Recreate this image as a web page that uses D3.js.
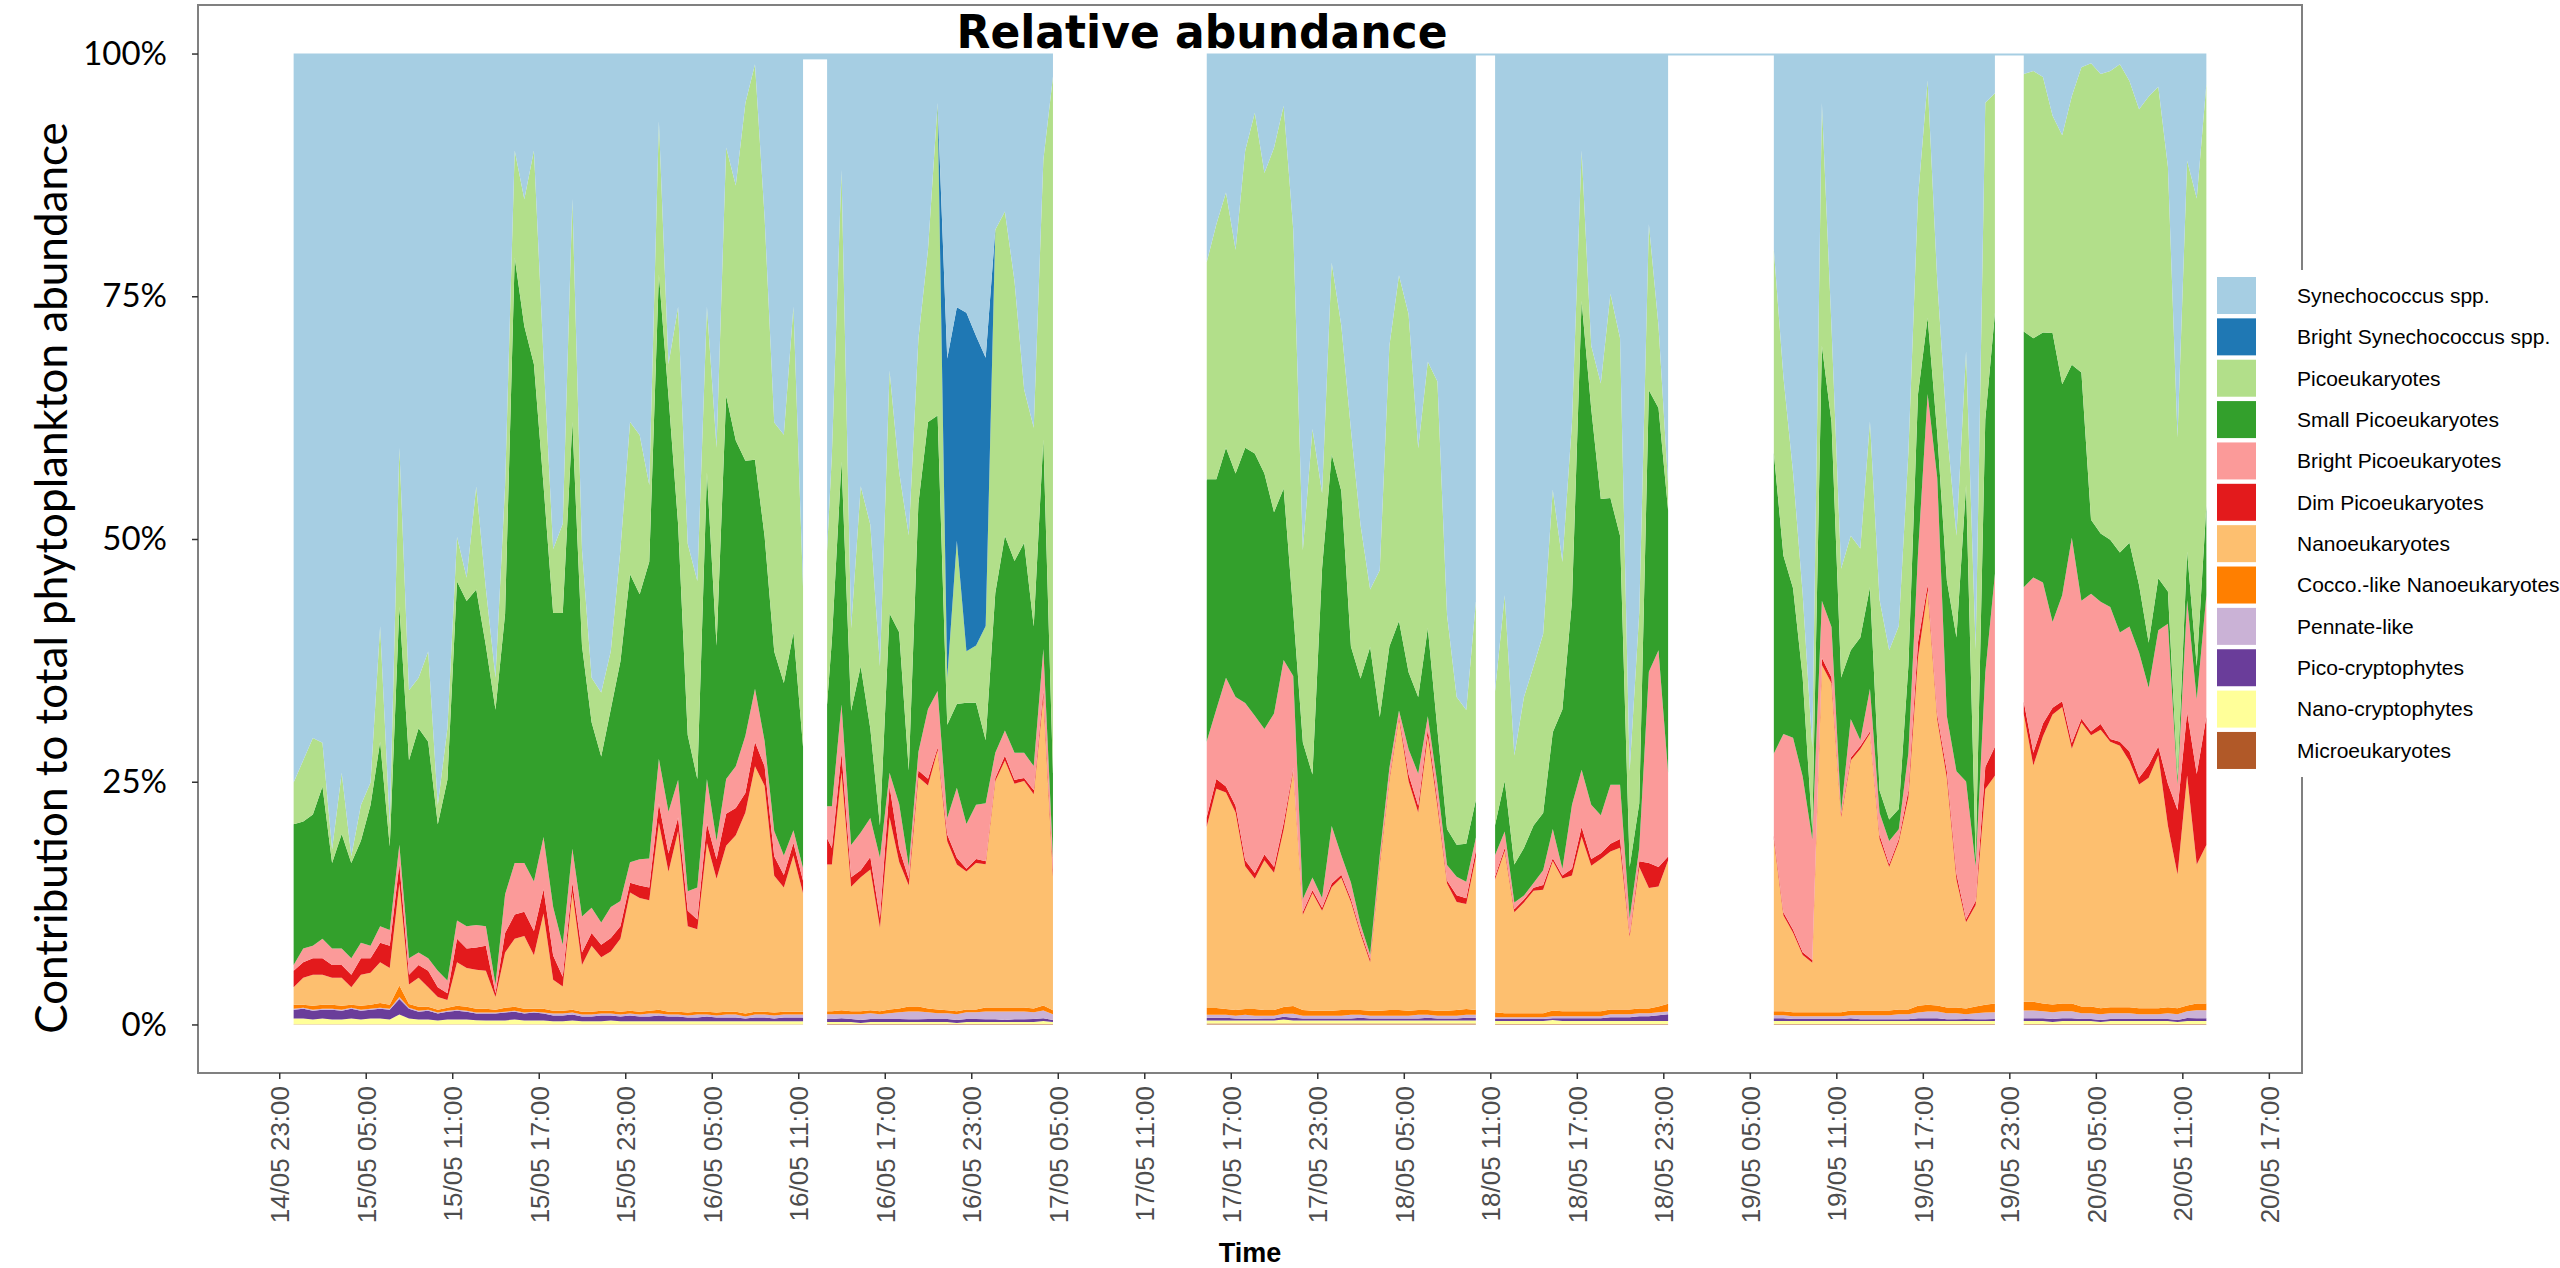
<!DOCTYPE html>
<html>
<head>
<meta charset="utf-8">
<script src="https://cdn.jsdelivr.net/npm/d3@7"></script>
<style>
  body { margin: 0; background: #fff; }
  svg { display: block; }
</style>
</head>
<body>
<div id="chart"></div>
<script>
// sampling times (one list, six sampling runs separated by gaps)
const times = [
  // run 1
  "15/05 00:00","15/05 00:40","15/05 01:20","15/05 02:00","15/05 02:40","15/05 03:20","15/05 04:00","15/05 04:40","15/05 05:20","15/05 06:00",
  "15/05 06:40","15/05 07:20","15/05 08:00","15/05 08:40","15/05 09:20","15/05 10:00","15/05 10:40","15/05 11:20","15/05 12:00","15/05 12:40",
  "15/05 13:20","15/05 14:00","15/05 14:40","15/05 15:20","15/05 16:00","15/05 16:40","15/05 17:20","15/05 18:00","15/05 18:40","15/05 19:20",
  "15/05 20:00","15/05 20:40","15/05 21:20","15/05 22:00","15/05 22:40","15/05 23:20","16/05 00:00","16/05 00:40","16/05 01:20","16/05 02:00",
  "16/05 02:40","16/05 03:20","16/05 04:00","16/05 04:40","16/05 05:20","16/05 06:00","16/05 06:40","16/05 07:20","16/05 08:00","16/05 08:40",
  "16/05 09:20","16/05 10:00","16/05 10:40","16/05 11:20",
  // run 2
  "16/05 13:00","16/05 13:20","16/05 14:00","16/05 14:40","16/05 15:20","16/05 16:00","16/05 16:40","16/05 17:20","16/05 18:00","16/05 18:40",
  "16/05 19:20","16/05 20:00","16/05 20:40","16/05 21:20","16/05 22:00","16/05 22:40","16/05 23:20","17/05 00:00","17/05 00:40","17/05 01:20",
  "17/05 02:00","17/05 02:40","17/05 03:20","17/05 04:00","17/05 04:40",
  // run 3
  "17/05 15:20","17/05 16:00","17/05 16:40","17/05 17:20","17/05 18:00","17/05 18:40","17/05 19:20","17/05 20:00","17/05 20:40","17/05 21:20",
  "17/05 22:00","17/05 22:40","17/05 23:20","18/05 00:00","18/05 00:40","18/05 01:20","18/05 02:00","18/05 02:40","18/05 03:20","18/05 04:00",
  "18/05 04:40","18/05 05:20","18/05 06:00","18/05 06:40","18/05 07:20","18/05 08:00","18/05 08:40","18/05 09:20","18/05 10:00",
  // run 4
  "18/05 11:20","18/05 12:00","18/05 12:40","18/05 13:20","18/05 14:00","18/05 14:40","18/05 15:20","18/05 16:00","18/05 16:40","18/05 17:20",
  "18/05 18:00","18/05 18:40","18/05 19:20","18/05 20:00","18/05 20:40","18/05 21:20","18/05 22:00","18/05 22:40","18/05 23:20",
  // run 5
  "19/05 06:40","19/05 07:20","19/05 08:00","19/05 08:40","19/05 09:20","19/05 10:00","19/05 10:40","19/05 11:20","19/05 12:00","19/05 12:40",
  "19/05 13:20","19/05 14:00","19/05 14:40","19/05 15:20","19/05 16:00","19/05 16:40","19/05 17:20","19/05 18:00","19/05 18:40","19/05 19:20",
  "19/05 20:00","19/05 20:40","19/05 21:20","19/05 22:00",
  // run 6
  "20/05 00:00","20/05 00:40","20/05 01:20","20/05 02:00","20/05 02:40","20/05 03:20","20/05 04:00","20/05 04:40","20/05 05:20","20/05 06:00",
  "20/05 06:40","20/05 07:20","20/05 08:00","20/05 08:40","20/05 09:20","20/05 10:00","20/05 10:40","20/05 11:20","20/05 12:00","20/05 12:40"
];

// relative abundance of each group (%)
const synechococcus = [
  75.1,72.8,70.5,71.0,82.0,74.1,82.7,77.4,75.1,59.0,79.4,40.6,65.6,64.3,61.6,77.4,69.5,49.8,54.0,44.5,
  55.1,64.3,44.5,10.0,15.0,10.0,31.4,51.1,48.5,15.0,51.1,64.3,65.9,61.6,51.1,38.0,39.3,44.5,7.0,32.0,
  26.1,50.5,54.4,26.1,40.6,9.7,13.6,5.1,1.1,16.9,38.0,39.3,26.1,55.1,
  51.1,41.2,12.0,59.1,44.5,48.5,63.0,32.7,43.2,49.8,29.5,20.2,5.1,31.4,26.1,26.7,29.1,31.4,18.2,16.3,23.5,34.7,38.6,11.0,2.4,
  21.5,17.6,14.3,20.2,10.0,6.1,12.3,9.7,5.4,18.2,51.1,38.6,45.2,21.5,28.0,38.7,48.5,55.1,53.1,30.1,22.8,26.8,40.6,31.7,33.7,57.7,66.2,67.6,56.4,
  65.6,55.7,72.2,66.2,63.0,59.7,45.0,52.4,38.0,10.0,30.1,34.0,24.8,29.4,74.1,57.7,17.6,28.1,44.5,
  20.2,33.4,43.2,55.7,71.5,5.1,28.2,53.1,49.8,51.1,38.0,56.4,61.6,59.1,41.2,14.9,2.8,23.5,38.7,49.8,30.7,61.6,5.1,4.1,
  2.1,1.8,2.4,6.4,8.4,4.4,1.4,1.0,2.1,1.8,1.1,2.8,5.7,4.4,3.4,11.6,39.3,11.0,14.9,3.1
];
const brightSynechococcus = [
  0,0,0,0,0,0,0,0,0,0,0,0,0,0,0,0,0,0,0,0,0,0,0,0,0,0,0,0,0,0,0,0,0,0,0,0,0,0,0,0,0,0,0,0,0,0,0,0,0,0,0,0,0,0,
  0,0,0,0,0,0,0,0,0,0,0,0,0,32.9,24.0,34.9,31.9,27.7,0,0,0,0,0,0,0,
  0,0,0,0,0,0,0,0,0,0,0,0,0,0,0,0,0,0,0,0,0,0,0,0,0,0,0,0,0,
  0,0,0,0,0,0,0,0,0,0,0,0,0,0,0,0,0,0,0,
  0,0,0,0,0,0,0,0,0,0,0,0,0,0,0,0,0,0,0,0,0,0,0,0,
  0,0,0,0,0,0,0,0,0,0,0,0,0,0,0,0,0,0,0,0
];
const picoeukaryotes = [
  4.3,6.3,7.9,4.5,1.4,6.3,0.7,3.7,2.3,11.9,2.3,16.4,7.2,5.2,9.3,2.0,5.3,4.6,2.4,10.6,
  5.9,3.3,13.2,11.0,13.1,22.0,13.1,6.6,9.2,23.0,9.9,4.6,6.6,6.0,11.5,15.7,16.4,7.9,15.8,3.3,
  22.4,19.7,20.4,17.1,20.4,25.6,26.3,36.8,40.8,32.9,23.6,25.6,33.6,16.4,
  15.8,19.1,30.0,8.5,18.5,21.0,16.4,25.0,16.5,24.3,17.0,17.8,32.2,4.8,16.8,5.3,5.9,11.8,37.5,33.5,28.9,15.8,20.5,28.9,71.7,
  22.4,26.3,26.3,23.0,30.6,35.1,30.9,37.5,39.5,39.5,19.8,35.5,7.7,19.7,17.0,22.3,15.8,5.9,15.1,30.9,35.6,36.8,25.6,27.4,35.8,22.0,15.2,13.8,20.4,
  13.8,19.1,11.2,15.5,16.4,18.4,25.0,15.2,18.4,15.5,6.5,11.9,21.1,20.4,9.9,19.7,17.1,8.5,2.7,
  21.0,18.4,11.9,8.6,8.6,25.0,9.8,11.2,11.8,9.2,17.1,19.7,17.5,18.9,22.0,20.4,24.6,15.8,15.7,10.5,13.8,21.8,32.9,22.7,
  26.6,27.6,26.3,22.3,25.6,27.6,31.3,46.8,47.0,48.0,50.0,47.3,48.7,55.9,50.3,43.5,34.8,40.1,48.1,43.4
];
const smallPicoeukaryotes = [
  14.5,13.1,13.5,15.7,8.8,11.8,9.8,10.5,14.5,19.0,8.6,24.5,20.4,23.1,22.3,15.1,20.7,34.9,33.5,34.5,
  28.9,28.3,28.9,62.4,55.3,53.3,36.2,30.3,34.2,44.0,27.9,19.1,17.1,20.4,24.7,29.7,27.3,30.6,50.0,42.8,
  26.3,16.1,11.2,31.6,20.1,39.5,33.6,28.3,23.6,21.1,18.5,17.8,20.4,12.5,
  10.5,17.1,25.0,13.8,17.1,9.2,3.3,16.4,17.7,9.9,25.7,29.6,28.4,9.6,8.6,12.5,10.5,6.5,16.5,20.1,19.8,21.7,14.4,21.7,8.6,
  27.0,23.7,23.7,23.0,26.3,27.0,26.3,20.7,17.7,6.6,16.1,10.6,33.9,38.2,37.5,24.3,25.3,31.6,14.2,12.5,9.2,7.9,7.9,9.1,5.6,3.7,3.3,3.9,3.9,
  3.1,5.2,3.9,4.9,5.9,5.9,10.0,16.4,21.0,48.3,40.8,32.6,29.6,25.7,5.3,4.6,29.0,25.0,27.1,
  31.0,18.4,15.4,10.2,0.9,26.3,21.1,13.8,7.1,10.6,10.5,2.3,2.2,2.1,9.0,16.5,7.9,4.6,14.0,13.8,30.6,0.6,26.3,26.9,
  26.4,24.7,25.7,29.7,21.7,17.8,23.4,7.6,7.0,6.9,8.2,8.6,6.9,4.6,5.3,3.3,0.7,5.0,3.4,9.2
];
const brightPicoeukaryotes = [
  0.6,1.4,1.3,2.0,1.7,1.7,1.7,1.6,1.3,1.7,1.6,2.0,1.7,1.3,1.3,1.7,1.3,1.9,2.3,2.3,
  2.0,0.9,4.0,5.3,5.0,5.1,5.4,5.0,3.3,3.5,3.7,2.6,2.3,3.2,2.6,2.1,2.7,3.0,4.6,4.3,
  3.9,2.0,3.3,4.6,1.9,3.6,4.3,5.9,5.5,2.6,2.6,2.0,1.3,1.3,
  3.3,4.3,5.0,3.3,3.9,4.0,6.2,1.4,4.6,1.3,1.9,7.2,5.8,1.7,7.2,4.6,5.6,6.0,2.6,2.6,2.8,2.6,2.5,4.3,1.3,
  7.8,7.2,11.2,11.2,16.2,16.2,12.9,15.8,16.8,9.5,1.3,1.3,1.0,5.9,2.0,1.7,0.7,0.5,0.6,1.0,0.5,2.6,3.3,1.3,1.7,1.6,1.9,1.7,1.3,
  2.2,1.7,0.7,0.4,0.5,1.5,3.0,0.7,6.6,5.9,5.6,3.9,6.1,5.6,1.6,1.4,19.7,22.4,8.7,
  8.5,18.4,19.8,18.1,12.4,5.9,5.2,0.3,4.0,0.6,4.4,2.3,2.4,1.0,3.9,9.2,19.8,24.5,5.7,10.6,14.2,3.6,9.8,17.8,
  11.8,18.1,14.5,8.8,10.9,21.1,12.1,14.1,12.5,13.5,11.2,12.8,12.8,7.9,11.9,16.4,2.6,11.5,7.7,12.5
];
const dimPicoeukaryotes = [
  1.7,1.6,1.7,1.7,1.3,1.3,1.3,1.7,1.5,2.0,2.3,2.0,1.0,1.3,1.7,1.0,0.7,2.4,2.0,2.3,
  2.6,0.4,2.0,2.5,2.5,2.5,2.5,2.5,1.0,1.0,1.3,1.3,1.3,1.4,1.3,1.0,1.3,1.3,2.0,1.9,
  1.4,1.6,1.0,2.0,2.0,3.3,2.8,2.0,2.5,2.0,2.0,1.3,1.3,1.3,
  2.7,1.7,2.0,1.0,0.7,1.3,1.0,3.2,1.4,0.7,0.7,0.7,0.3,0.7,0.7,0.3,0.4,0.3,0.3,0.5,0.4,0.3,0.4,0.7,0.7,
  1.0,1.0,0.6,0.7,0.6,0.6,0.6,0.6,0.7,0.3,0.3,0.3,0.3,0.4,0.3,0.3,0.3,0.3,0.4,0.3,0.3,0.7,0.7,0.7,0.6,0.3,0.7,0.6,0.7,
  0.3,0.3,0.3,0.3,0.3,0.5,0.3,0.3,0.7,1.0,0.7,0.6,0.8,0.9,0.3,0.6,2.6,2.0,0.4,
  0.4,0.3,0.3,0.3,0.3,0.7,0.6,0.3,0.3,0.3,0.2,0.4,0.3,0.3,0.7,1.6,0.6,0.5,0.7,0.6,0.3,0.4,2.3,3.0,
  1.3,1.3,1.3,0.7,0.6,0.6,0.4,0.4,0.6,0.3,0.4,1.0,0.7,1.3,0.9,4.3,6.6,6.5,9.3,13.2
];
const nanoeukaryotes = [
  1.8,2.8,3.2,3.1,2.8,2.9,1.8,3.2,3.3,4.2,3.8,10.5,2.0,3.0,2.0,1.3,0.8,4.5,4.0,4.0,
  3.9,1.3,5.7,7.0,7.5,5.5,9.8,3.2,2.5,12.1,4.8,6.8,5.5,6.1,7.5,12.2,11.7,11.4,19.3,14.4,
  18.6,8.9,8.5,17.4,13.8,17.1,18.2,20.7,25.3,23.3,14.1,12.8,16.1,12.2,
  15.1,15.1,24.5,12.8,13.8,14.5,8.6,19.8,15.1,12.5,23.7,23.0,26.7,17.4,15.1,14.2,15.1,14.8,23.4,25.5,23.1,23.4,22.1,31.9,13.8,
  18.7,22.6,22.3,20.3,14.7,13.4,15.4,14.1,18.3,24.3,9.8,12.1,10.3,12.7,13.6,11.1,7.8,5.0,15.0,23.6,30.0,23.6,20.3,28.2,21.0,13.1,11.1,10.8,15.7,
  13.7,16.7,10.4,11.4,12.6,12.7,15.4,13.7,14.0,18.0,15.0,15.7,16.3,16.7,7.5,14.6,12.4,12.4,14.8,
  17.7,9.9,8.2,5.9,5.1,35.8,33.9,20.1,25.8,27.0,28.6,17.7,14.8,17.3,21.9,36.1,42.9,29.6,23.7,13.2,8.9,10.5,22.4,23.5,
  29.7,24.4,27.5,29.8,30.5,26.2,29.1,27.8,28.5,27.2,26.8,25.2,22.9,23.6,25.9,18.6,13.7,23.6,14.3,16.3
];
const coccoNanoeukaryotes = [
  0.4,0.3,0.4,0.4,0.4,0.4,0.3,0.4,0.4,0.5,0.4,1.2,0.4,0.4,0.3,0.3,0.3,0.4,0.4,0.4,
  0.4,0.3,0.4,0.4,0.4,0.3,0.4,0.3,0.3,0.3,0.3,0.3,0.3,0.3,0.3,0.3,0.3,0.3,0.4,0.3,
  0.3,0.3,0.3,0.3,0.3,0.3,0.3,0.3,0.3,0.3,0.3,0.3,0.3,0.3,
  0.3,0.3,0.4,0.3,0.3,0.3,0.3,0.4,0.4,0.5,0.5,0.4,0.4,0.3,0.3,0.3,0.3,0.4,0.4,0.4,0.4,0.4,0.4,0.5,0.4,
  0.7,0.7,0.6,0.6,0.6,0.7,0.6,0.6,0.7,0.8,0.6,0.5,0.5,0.5,0.6,0.5,0.5,0.5,0.5,0.6,0.6,0.5,0.5,0.5,0.5,0.5,0.6,0.6,0.5,
  0.5,0.4,0.4,0.4,0.4,0.4,0.6,0.5,0.5,0.5,0.5,0.5,0.5,0.5,0.5,0.5,0.5,0.6,0.8,
  0.4,0.4,0.4,0.4,0.4,0.4,0.4,0.4,0.5,0.5,0.5,0.5,0.5,0.5,0.5,0.7,0.7,0.6,0.6,0.6,0.6,0.7,0.8,0.9,
  0.9,0.9,0.8,0.8,0.8,0.8,0.7,0.7,0.6,0.6,0.6,0.6,0.6,0.6,0.6,0.6,0.6,0.6,0.7,0.7
];
const pennateLike = [
  0.1,0.1,0.1,0.1,0.1,0.1,0.1,0.1,0.1,0.1,0.1,0.2,0.1,0.1,0.1,0.1,0.1,0.1,0.1,0.1,
  0.1,0.1,0.1,0.1,0.1,0.1,0.1,0.2,0.2,0.2,0.2,0.2,0.2,0.2,0.2,0.2,0.2,0.3,0.2,0.2,
  0.2,0.2,0.3,0.2,0.2,0.3,0.3,0.2,0.3,0.3,0.3,0.3,0.3,0.3,
  0.5,0.5,0.4,0.5,0.6,0.6,0.5,0.6,0.7,0.8,0.8,0.7,0.6,0.6,0.6,0.7,0.7,0.8,0.8,0.9,0.8,0.8,0.7,0.8,0.6,
  0.3,0.3,0.3,0.3,0.4,0.3,0.3,0.3,0.3,0.4,0.3,0.3,0.3,0.3,0.3,0.4,0.3,0.3,0.3,0.3,0.3,0.3,0.4,0.3,0.3,0.3,0.3,0.3,0.3,
  0.2,0.2,0.2,0.2,0.2,0.2,0.2,0.2,0.2,0.2,0.2,0.2,0.3,0.3,0.3,0.3,0.3,0.3,0.3,
  0.3,0.3,0.3,0.3,0.3,0.3,0.3,0.3,0.3,0.4,0.4,0.4,0.4,0.5,0.5,0.6,0.7,0.7,0.6,0.6,0.5,0.6,0.7,0.7,
  0.8,0.8,0.7,0.7,0.7,0.7,0.6,0.6,0.6,0.6,0.6,0.6,0.5,0.5,0.5,0.6,0.6,0.7,0.8,0.8
];
const picoCryptophytes = [
  0.9,1.0,0.9,0.9,1.0,0.9,1.0,0.9,0.9,1.0,1.0,1.6,1.0,0.8,0.9,0.7,0.8,0.9,0.8,0.7,
  0.7,0.7,0.8,0.8,0.7,0.8,0.7,0.6,0.6,0.6,0.5,0.5,0.6,0.5,0.5,0.6,0.5,0.5,0.6,0.5,
  0.5,0.4,0.4,0.5,0.4,0.4,0.4,0.3,0.4,0.4,0.3,0.4,0.4,0.4,
  0.3,0.3,0.4,0.3,0.3,0.3,0.3,0.3,0.3,0.3,0.3,0.3,0.3,0.3,0.3,0.3,0.3,0.3,0.3,0.2,0.3,0.3,0.3,0.3,0.2,
  0.3,0.3,0.3,0.2,0.2,0.2,0.2,0.2,0.3,0.3,0.2,0.2,0.2,0.2,0.2,0.2,0.3,0.2,0.2,0.2,0.2,0.2,0.2,0.3,0.2,0.2,0.2,0.3,0.3,
  0.2,0.2,0.2,0.2,0.2,0.2,0.2,0.3,0.3,0.3,0.3,0.3,0.4,0.4,0.4,0.5,0.5,0.6,0.7,
  0.3,0.3,0.2,0.2,0.2,0.2,0.2,0.2,0.3,0.2,0.2,0.2,0.2,0.2,0.2,0.3,0.3,0.3,0.2,0.2,0.2,0.2,0.2,0.2,
  0.3,0.3,0.3,0.3,0.3,0.3,0.2,0.2,0.2,0.2,0.2,0.2,0.2,0.2,0.2,0.2,0.2,0.3,0.3,0.3
];
const nanoCryptophytes = [
  0.6,0.6,0.5,0.6,0.5,0.5,0.6,0.5,0.6,0.6,0.5,1.0,0.6,0.5,0.5,0.4,0.5,0.5,0.5,0.4,
  0.4,0.4,0.4,0.5,0.4,0.4,0.4,0.3,0.3,0.4,0.3,0.3,0.3,0.4,0.3,0.3,0.3,0.3,0.3,0.3,
  0.3,0.3,0.3,0.3,0.3,0.3,0.3,0.3,0.3,0.3,0.3,0.3,0.3,0.3,
  0.2,0.2,0.2,0.2,0.1,0.2,0.2,0.2,0.2,0.2,0.2,0.2,0.2,0.2,0.1,0.2,0.2,0.2,0.2,0.2,0.2,0.2,0.2,0.3,0.2,
  0.3,0.3,0.3,0.3,0.3,0.3,0.3,0.3,0.4,0.3,0.3,0.3,0.3,0.3,0.3,0.3,0.3,0.3,0.3,0.3,0.3,0.3,0.3,0.3,0.3,0.3,0.3,0.3,0.3,
  0.3,0.3,0.3,0.3,0.3,0.3,0.4,0.3,0.3,0.3,0.3,0.3,0.3,0.3,0.3,0.3,0.3,0.3,0.3,
  0.3,0.3,0.3,0.3,0.3,0.3,0.3,0.3,0.3,0.3,0.3,0.3,0.3,0.3,0.3,0.3,0.3,0.3,0.3,0.3,0.3,0.3,0.3,0.3,
  0.3,0.3,0.3,0.2,0.3,0.3,0.3,0.3,0.2,0.3,0.3,0.3,0.3,0.3,0.3,0.3,0.2,0.3,0.3,0.3
];
const microeukaryotes = [
  0.02,0.02,0.02,0.02,0.02,0.02,0.02,0.02,0.02,0.02,0.02,0.02,0.02,0.02,0.02,0.02,0.02,0.02,0.02,0.02,
  0.02,0.02,0.02,0.02,0.02,0.02,0.02,0.02,0.02,0.02,0.02,0.02,0.02,0.02,0.02,0.02,0.02,0.02,0.02,0.02,
  0.02,0.02,0.02,0.02,0.02,0.02,0.02,0.02,0.02,0.02,0.02,0.02,0.02,0.02,
  0.05,0.05,0.05,0.05,0.05,0.05,0.05,0.05,0.05,0.05,0.05,0.05,0.05,0.05,0.05,0.05,0.05,0.05,0.05,0.05,0.05,0.05,0.05,0.05,0.05,
  0.1,0.1,0.1,0.1,0.1,0.1,0.1,0.1,0.1,0.1,0.1,0.1,0.1,0.1,0.1,0.1,0.1,0.1,0.1,0.1,0.1,0.1,0.1,0.1,0.1,0.1,0.1,0.1,0.1,
  0.05,0.05,0.05,0.05,0.05,0.05,0.05,0.05,0.05,0.05,0.05,0.05,0.05,0.05,0.05,0.05,0.05,0.05,0.05,
  0.05,0.05,0.05,0.05,0.05,0.05,0.05,0.05,0.05,0.05,0.05,0.05,0.05,0.05,0.05,0.05,0.05,0.05,0.05,0.05,0.05,0.05,0.05,0.05,
  0.05,0.05,0.05,0.05,0.05,0.05,0.05,0.05,0.05,0.05,0.05,0.05,0.05,0.05,0.05,0.05,0.05,0.05,0.05,0.05
];

// legend order (top of stack first)
const groupNames = [
  "Synechococcus spp.", "Bright Synechococcus spp.", "Picoeukaryotes", "Small Picoeukaryotes",
  "Bright Picoeukaryotes", "Dim Picoeukaryotes", "Nanoeukaryotes", "Cocco.-like Nanoeukaryotes",
  "Pennate-like", "Pico-cryptophytes", "Nano-cryptophytes", "Microeukaryotes"
];
const groupColors = [
  "#a6cee3", "#1f78b4", "#b2df8a", "#33a02c", "#fb9a99", "#e31a1c",
  "#fdbf6f", "#ff7f00", "#cab2d6", "#6a3d9a", "#ffff99", "#b15928"
];
const groupValues = [
  synechococcus, brightSynechococcus, picoeukaryotes, smallPicoeukaryotes,
  brightPicoeukaryotes, dimPicoeukaryotes, nanoeukaryotes, coccoNanoeukaryotes,
  pennateLike, picoCryptophytes, nanoCryptophytes, microeukaryotes
];

const xTickLabels = [
  "14/05 23:00","15/05 05:00","15/05 11:00","15/05 17:00","15/05 23:00","16/05 05:00",
  "16/05 11:00","16/05 17:00","16/05 23:00","17/05 05:00","17/05 11:00","17/05 17:00",
  "17/05 23:00","18/05 05:00","18/05 11:00","18/05 17:00","18/05 23:00","19/05 05:00",
  "19/05 11:00","19/05 17:00","19/05 23:00","20/05 05:00","20/05 11:00","20/05 17:00"
];
const yTickValues = [0, 0.25, 0.5, 0.75, 1];
const yTickLabels = ["0%", "25%", "50%", "75%", "100%"];

// periods without samples (blanked out)
const gapFrom = ["16/05 11:20", "17/05 04:40", "18/05 10:00", "18/05 23:20", "19/05 22:00"];
const gapTo   = ["16/05 13:00", "17/05 15:20", "18/05 11:20", "19/05 06:40", "20/05 00:00"];
const gapTop  = [99.4, 106, 99.8, 99.8, 99.8];

groupValues.forEach((arr, i) => {
  if (arr.length !== times.length) throw new Error(groupNames[i] + " has " + arr.length + " values, expected " + times.length);
});

const W = 2560, H = 1268;
const panel = {left: 198, right: 2302, top: 5, bottom: 1073};

const parseTime = d3.utcParse("%d/%m %H:%M");
const fmtTime = d3.utcFormat("%d/%m %H:%M");

// bottom of the stack first
const keys = groupNames.slice().reverse();
const data = times.map((t, i) => {
  const row = {time: parseTime(t)};
  groupNames.forEach((g, j) => { row[g] = groupValues[j][i]; });
  return row;
});

const layers = d3.stack()
  .keys(keys)
  .offset(d3.stackOffsetExpand)(data);

const color = d3.scaleOrdinal().domain(groupNames).range(groupColors);

const ext = d3.extent(data, d => d.time);
const pad = (ext[1] - ext[0]) * 0.05;
const x = d3.scaleUtc()
  .domain([new Date(+ext[0] - pad), new Date(+ext[1] + pad)])
  .range([panel.left, panel.right]);
const y = d3.scaleLinear()
  .domain([-0.05, 1.05])
  .range([panel.bottom, panel.top]);

const svg = d3.select("#chart").append("svg")
  .attr("width", W)
  .attr("height", H);

svg.append("rect").attr("width", W).attr("height", H).attr("fill", "#fff");

const area = d3.area()
  .x(d => x(d.data.time))
  .y0(d => y(d[0]))
  .y1(d => y(d[1]));

svg.append("g")
  .selectAll("path")
  .data(layers)
  .join("path")
  .attr("fill", d => color(d.key))
  .attr("d", area);

// white blocks over the sampling gaps
svg.append("g")
  .selectAll("rect")
  .data(gapFrom.map((g, i) => ({from: parseTime(g), to: parseTime(gapTo[i]), top: gapTop[i] / 100})))
  .join("rect")
  .attr("x", d => x(d.from))
  .attr("width", d => x(d.to) - x(d.from))
  .attr("y", d => y(d.top))
  .attr("height", d => y(0) - y(d.top) + 2)
  .attr("fill", "#fff");

// panel border
svg.append("rect")
  .attr("x", panel.left)
  .attr("y", panel.top)
  .attr("width", panel.right - panel.left)
  .attr("height", panel.bottom - panel.top)
  .attr("fill", "none")
  .attr("stroke", "#808080")
  .attr("stroke-width", 2);

// x axis
const xAxis = d3.axisBottom(x)
  .tickValues(xTickLabels.map(parseTime))
  .tickFormat(fmtTime)
  .tickSize(6)
  .tickPadding(0);
const gx = svg.append("g")
  .attr("transform", "translate(0," + panel.bottom + ")")
  .call(xAxis);
gx.select(".domain").remove();
gx.selectAll(".tick line").attr("stroke", "#333").attr("stroke-width", 1.5);
gx.selectAll(".tick text")
  .attr("transform", "rotate(-90)")
  .attr("text-anchor", "end")
  .attr("x", -13)
  .attr("y", 0)
  .attr("dy", "0.36em")
  .attr("fill", "#4d4d4d")
  .style("font-family", "'Liberation Sans', Arial, sans-serif")
  .style("font-size", "26px");

// y axis
const yAxis = d3.axisLeft(y)
  .tickValues(yTickValues)
  .tickFormat((d, i) => yTickLabels[i])
  .tickSize(6)
  .tickPadding(25);
const gy = svg.append("g")
  .attr("transform", "translate(" + panel.left + ",0)")
  .call(yAxis);
gy.select(".domain").remove();
gy.selectAll(".tick line").attr("stroke", "#333").attr("stroke-width", 1.5);
gy.selectAll(".tick text")
  .attr("fill", "#000")
  .style("font-family", "Lato, 'Open Sans', sans-serif")
  .style("font-size", "33px");

// titles
svg.append("text")
  .attr("x", 1202)
  .attr("y", 48)
  .attr("text-anchor", "middle")
  .attr("textLength", 491)
  .attr("lengthAdjust", "spacingAndGlyphs")
  .style("font-family", "'DejaVu Sans', sans-serif")
  .style("font-weight", "bold")
  .style("font-size", "47px")
  .text("Relative abundance");

svg.append("text")
  .attr("x", 1250)
  .attr("y", 1262)
  .attr("text-anchor", "middle")
  .style("font-family", "'Liberation Sans', Arial, sans-serif")
  .style("font-weight", "bold")
  .style("font-size", "27px")
  .text("Time");

svg.append("text")
  .attr("transform", "translate(52,578) rotate(-90)")
  .attr("text-anchor", "middle")
  .attr("dy", "0.35em")
  .style("font-family", "Lato, 'Open Sans', sans-serif")
  .style("font-size", "44px")
  .text("Contribution to total phytoplankton abundance");

// legend
const legend = svg.append("g");
legend.append("rect")
  .attr("x", 2207).attr("y", 270)
  .attr("width", W - 2207).attr("height", 507)
  .attr("fill", "#fff");
const item = legend.selectAll("g.item")
  .data(groupNames)
  .join("g")
  .attr("class", "item")
  .attr("transform", (d, i) => "translate(2217," + (277 + i * 41.36) + ")");
item.append("rect")
  .attr("width", 39)
  .attr("height", 37)
  .attr("fill", d => color(d));
item.append("text")
  .attr("x", 80)
  .attr("y", 18.5)
  .attr("dy", "0.35em")
  .style("font-family", "'Liberation Sans', Arial, sans-serif")
  .style("font-size", "21px")
  .text(d => d);
</script>
</body>
</html>
